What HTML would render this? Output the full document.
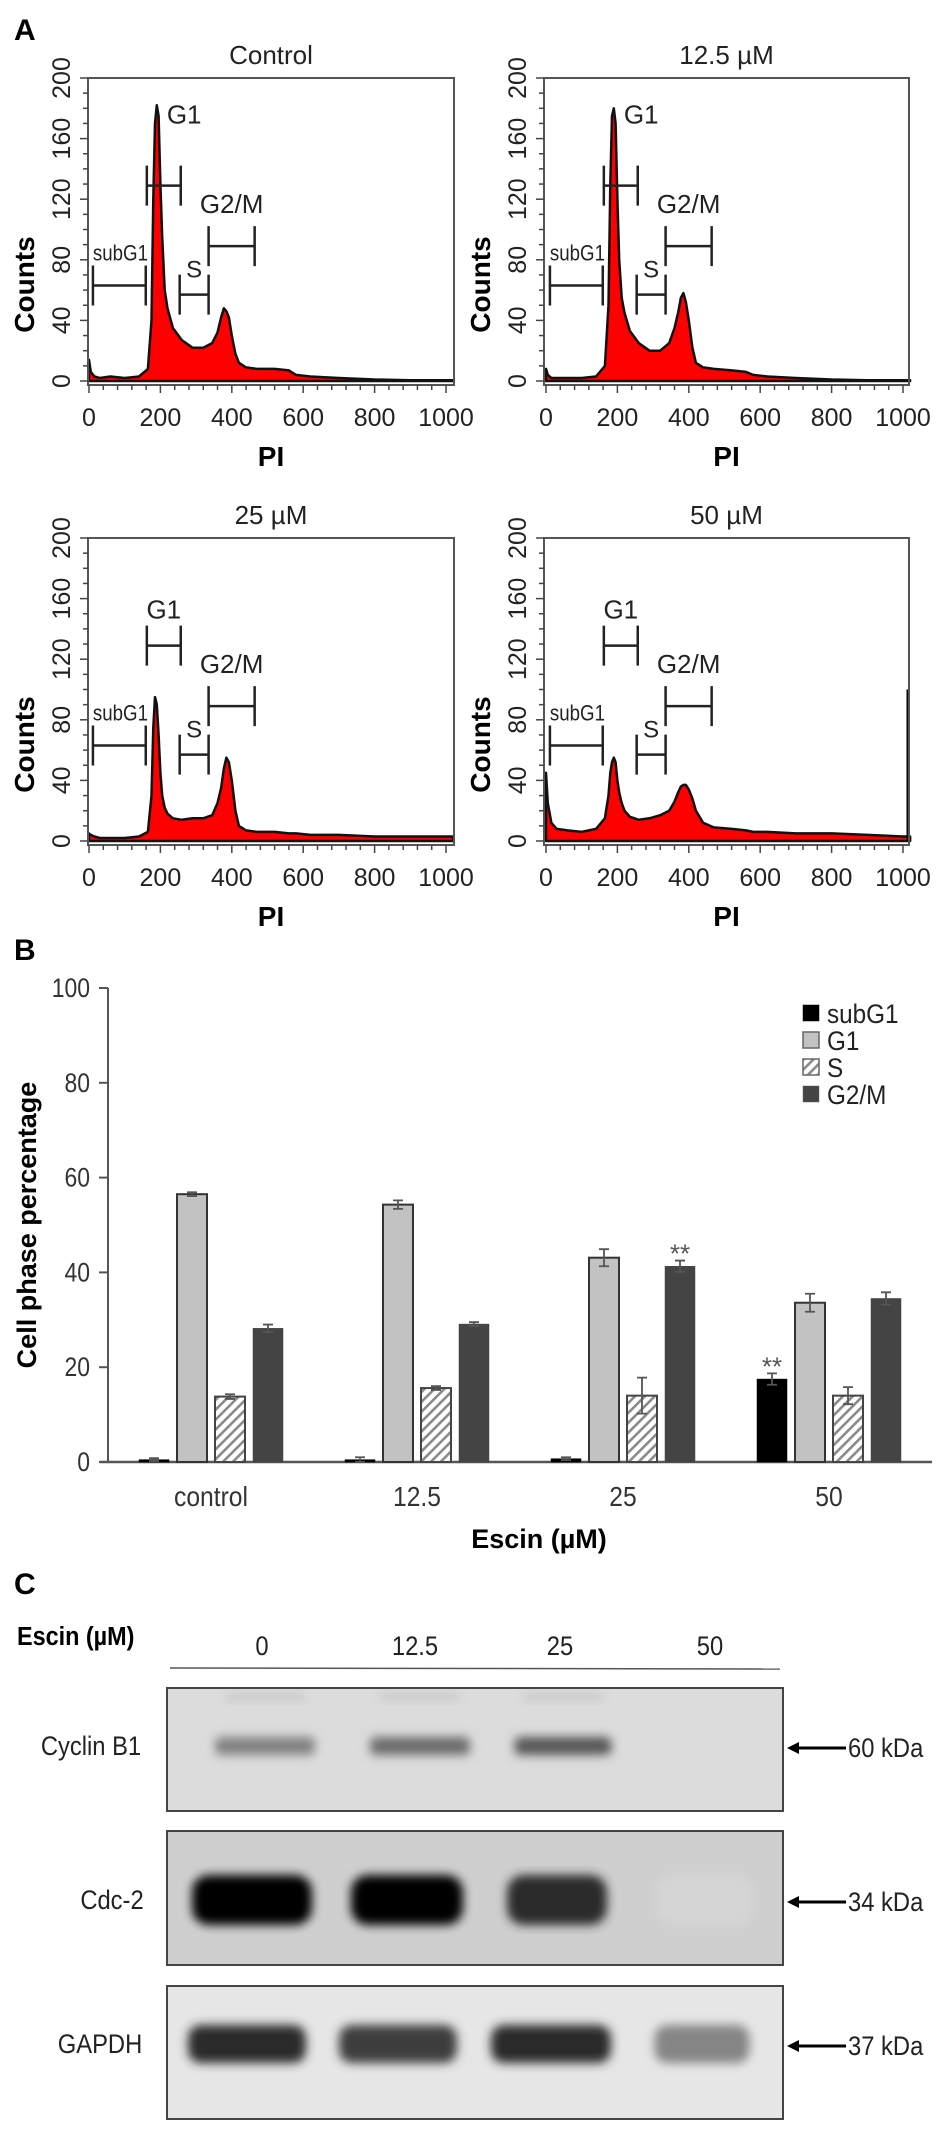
<!DOCTYPE html>
<html><head><meta charset="utf-8"><style>
html,body{margin:0;padding:0;background:#fff;}
svg{display:block;font-family:"Liberation Sans",Arial,sans-serif;}
</style></head><body>
<svg id="fig" width="945" height="2130" viewBox="0 0 945 2130" xmlns="http://www.w3.org/2000/svg">
<defs>
<pattern id="hatch" width="7" height="7" patternUnits="userSpaceOnUse" patternTransform="rotate(45)">
<rect width="7" height="7" fill="#fff"/><rect width="2.6" height="7" fill="#8a8a8a"/>
</pattern>
<filter id="blur4" x="-30%" y="-80%" width="160%" height="260%"><feGaussianBlur stdDeviation="5"/></filter>
</defs>
<text x="14" y="40" font-size="30" font-weight="bold">A</text>
<text x="14" y="960" font-size="30" font-weight="bold">B</text>
<text x="14" y="1594" font-size="30" font-weight="bold">C</text>
<g id="hists"></g>
<g id="bars"></g>
<g id="blot"></g>
</svg>
<script>
// ---------- Panel A data ----------
const histTitles = ["Control", "12.5 µM", "25 µM", "50 µM"];
const piValues = [0,5,15,30,60,100,140,165,175,180,185,190,195,200,205,212,220,235,260,290,320,345,360,370,378,385,392,400,410,420,440,470,520,560,580,620,700,800,900,1000,1020];
const countsControl = [14,6,3,2,3,2,3,8,40,120,170,182,175,130,95,60,48,35,27,22,22,25,32,42,48,46,42,30,18,12,9,8,8,7,4,3,2,1,0.5,0.5,0.5];
const counts12 = [8,4,2,2,2,2,3,10,50,130,175,180,170,120,80,55,45,33,25,20,20,25,35,45,55,58,52,40,22,12,9,8,7,6,4,3,2,1,0.5,0.5,0.5];
const counts25 = [5,4,3,2,2,2,3,6,30,75,95,90,70,45,30,22,18,15,14,15,15,17,25,35,48,55,52,40,20,10,7,6,6,5,5,4,4,3,3,3,3];
const counts50 = [45,25,12,8,7,6,8,15,30,45,52,55,52,40,32,25,20,16,14,15,17,20,26,32,36,37,37,34,28,20,12,9,8,7,6,6,5,5,4,3,3];
const edgeSpike50 = 100;
const yTickLabels = [0,40,80,120,160,200];
const xTickLabels = [0,200,400,600,800,1000];
const gateNames = ["subG1","G1","S","G2/M"];
const gateStart = [11,162,254,335];
const gateEnd = [159,257,335,464];
const gateLevel = [63,129,57,89];

// ---------- Panel B data ----------
const groups = ["control","12.5","25","50"];
const phases = ["subG1","G1","S","G2/M"];
const subG1Vals = [0.5,0.5,0.7,17.5];
const g1Vals = [56.5,54.3,43.1,33.6];
const sVals = [13.8,15.6,14.0,14.0];
const g2mVals = [28.2,29.1,41.3,34.5];
const subG1Err = [0.3,0.5,0.3,1.2];
const g1Err = [0.4,0.9,1.8,1.9];
const sErr = [0.5,0.4,3.8,1.8];
const g2mErr = [0.8,0.4,1.2,1.3];
const barTicks = [0,20,40,60,80,100];
const sigMarks = [["50",0],["25",3]];

// ---------- Panel C data ----------
const lanes = ["0","12.5","25","50"];
const proteins = ["Cyclin B1","Cdc-2","GAPDH"];
const markers = ["60 kDa","34 kDa","37 kDa"];
const cyclinIntensity = [0.4,0.5,0.6,0.0];
const cdc2Intensity = [1.0,1.0,0.8,0.01];
const gapdhIntensity = [0.8,0.72,0.8,0.38];

const NS="http://www.w3.org/2000/svg";
function mk(tag,attrs,parent,txt){const e=document.createElementNS(NS,tag);for(const k in attrs)e.setAttribute(k,attrs[k]);if(txt!==undefined)e.textContent=txt;parent.appendChild(e);return e;}

// ---------- draw histograms ----------
const hg=document.getElementById('hists');
const panels=[
 {ox:88,right:454,zero:89,top:78,base:381,counts:countsControl,g1top:true},
 {ox:544,right:909,zero:546,top:78,base:381,counts:counts12,g1top:true},
 {ox:88,right:454,zero:89,top:538,base:841,counts:counts25,g1top:false},
 {ox:544,right:909,zero:546,top:538,base:841,counts:counts50,g1top:false,spike:true}];
panels.forEach((p,pi)=>{
 const g=mk('g',{},hg);
 
 
 const sx=v=>p.zero+v*0.357;
 const sy=c=>p.base-c*(p.base-p.top)/200;
 const t=mk('text',{x:(p.ox+p.right)/2,y:p.top-14,'font-size':26,'text-anchor':'middle',fill:'#222'},g,histTitles[pi]);
 
 
 let d='M'+sx(piValues[0])+','+sy(0);
 for(let i=0;i<piValues.length;i++){d+=' L'+sx(piValues[i]).toFixed(1)+','+sy(p.counts[i]).toFixed(1);}
 d+=' L'+sx(piValues[piValues.length-1])+','+sy(0)+' Z';
 const area=mk('path',{d:d,fill:'#ff0000',stroke:'#111','stroke-width':2.5,'stroke-linejoin':'round'},g);
 
 
 if(p.spike){const sp=mk('line',{x1:p.right-1,x2:p.right-1,y1:sy(0),y2:sy(edgeSpike50),stroke:'#000','stroke-width':3},g);
  
  }
 const fr=mk('rect',{x:p.ox,y:p.top,width:p.right-p.ox,height:p.base-p.top+4,fill:'none',stroke:'#555','stroke-width':2},g);
 
 
 for(let v=0;v<=200;v+=10){mk('line',{x1:p.ox-(v%40?5:8),x2:p.ox,y1:sy(v),y2:sy(v),stroke:'#444','stroke-width':1.5},g);}
 yTickLabels.forEach(v=>{const tx=p.ox-18,ty=sy(v);const l=mk('text',{x:tx,y:ty,'font-size':25,'text-anchor':'middle',transform:`rotate(-90 ${tx} ${ty})`,fill:'#222'},g,String(v));
  
  });
 for(let v=0;v<=1000;v+=40){mk('line',{x1:sx(v),x2:sx(v),y1:p.base+4,y2:p.base+(v%200?9:12),stroke:'#444','stroke-width':1.5},g);}
 xTickLabels.forEach(v=>{const l=mk('text',{x:sx(v),y:p.base+45,'font-size':25,'text-anchor':'middle',fill:'#222'},g,String(v));
  
  });
 const xl=mk('text',{x:(p.ox+p.right)/2,y:p.base+85,'font-size':28,'font-weight':'bold','text-anchor':'middle'},g,'PI');
 
 
 const cx=p.ox-54,cy=(p.top+p.base)/2+55;
 const yl=mk('text',{x:cx,y:cy,'font-size':28,'font-weight':'bold','text-anchor':'middle',transform:`rotate(-90 ${cx} ${cy})`},g,'Counts');
 
 
 gateNames.forEach((gn,gi)=>{
  const x1=sx(gateStart[gi]),x2=sx(gateEnd[gi]),y=sy(gateLevel[gi]);
  const b=mk('path',{d:`M${x1},${y-20}V${y+20}M${x1},${y}H${x2}M${x2},${y-20}V${y+20}`,stroke:'#222','stroke-width':2.5,fill:'none'},g);
  
  
  let lx,ly,fs=26,anchor='middle',tr='';
  if(gn==='subG1'){lx=x1;ly=y-25;anchor='start';fs=22;tr=`translate(${x1*0.15},0) scale(0.85,1)`;}
  else if(gn==='G1'){ if(p.g1top){lx=x1+20;ly=sy(170);anchor='start';} else {lx=(x1+x2)/2;ly=y-27;} }
  else if(gn==='S'){lx=(x1+x2)/2;ly=y-17;fs=24;}
  else {lx=(x1+x2)/2;ly=y-33;}
  const at={x:lx,y:ly,'font-size':fs,'text-anchor':anchor,fill:'#222'};
  if(tr) at.transform=tr;
  const tl=mk('text',at,g,gn);
  
  
 });
});

// ---------- bar chart ----------
const bg=document.getElementById('bars');
const by0=1462, bpu=4.74, axX=108;
const yS=v=>by0-v*bpu;
const groupX=gi=>139+gi*206;
const series=[subG1Vals,g1Vals,sVals,g2mVals];
const errs=[subG1Err,g1Err,sErr,g2mErr];
const fills=['#000','#c2c2c2','url(#hatch)','#444'];
const strokes=['#000','#333','#444','#444'];
mk('line',{x1:axX,x2:axX,y1:yS(100),y2:by0,stroke:'#555','stroke-width':2},bg);
mk('line',{x1:axX-8,x2:932,y1:by0,y2:by0,stroke:'#555','stroke-width':2.5},bg);
barTicks.forEach(v=>{mk('line',{x1:axX-9,x2:axX,y1:yS(v),y2:yS(v),stroke:'#555','stroke-width':2},bg);
 const l=mk('text',{x:axX-18,y:yS(v)+9,'font-size':27,'text-anchor':'end',fill:'#333',transform:`translate(${(axX-18)*0.15},0) scale(0.85,1)`},bg,String(v));
 
 });
const ylx=36,yly=1225;
const ylab=mk('text',{x:ylx,y:yly,'font-size':27,'font-weight':'bold','text-anchor':'middle',transform:`rotate(-90 ${ylx} ${yly})`},bg,'Cell phase percentage');


groups.forEach((gname,gi)=>{
 series.forEach((vals,si)=>{
  const x=groupX(gi)+si*38, v=vals[gi];
  const r=mk('rect',{x:x,y:yS(v),width:30,height:by0-yS(v),fill:fills[si],stroke:strokes[si],'stroke-width':si===0||si===3?0.5:2},bg);
  
  
  const e=errs[si][gi], cx=x+15;
  const eb=mk('path',{d:`M${cx},${yS(v+e)}V${yS(v-e)}M${cx-5},${yS(v+e)}H${cx+5}M${cx-5},${yS(v-e)}H${cx+5}`,stroke:'#555','stroke-width':1.8,fill:'none'},bg);
  
  
 });
 const gx=groupX(gi)+72;
 const gl=mk('text',{x:gx,y:1506,'font-size':28,'text-anchor':'middle',fill:'#333',transform:`translate(${gx*0.12},0) scale(0.88,1)`},bg,gname);
 
 
});
sigMarks.forEach(([gname,si])=>{const gi=groups.indexOf(gname);const v=series[si][gi]+errs[si][gi];
 const s=mk('text',{x:groupX(gi)+si*38+15,y:yS(v)+2,'font-size':26,'text-anchor':'middle',fill:'#555'},bg,'**');
 
 });
const xt=mk('text',{x:539,y:1548,'font-size':27,'font-weight':'bold','text-anchor':'middle'},bg,'Escin (µM)');


phases.forEach((ph,i)=>{const y=1013+i*27;
 const sw=mk('rect',{x:803,y:y-8,width:16,height:16,fill:fills[i],stroke:i===0?'#000':'#666','stroke-width':i===1||i===2?1.5:0.5},bg);
 
 
 const lt=mk('text',{x:827,y:y+10,'font-size':27,fill:'#222',transform:`translate(${827*0.1},0) scale(0.9,1)`},bg,ph);
 
 });

// ---------- blot ----------
const wg=document.getElementById('blot');
const hdr=mk('text',{x:17,y:1645,'font-size':26,'font-weight':'bold',transform:'translate(1.7,0) scale(0.9,1)'},wg,'Escin (µM)');


const laneX=[262,415,560,710];
lanes.forEach((ln,i)=>{const t=mk('text',{x:laneX[i],y:1655,'font-size':27,'text-anchor':'middle',fill:'#222',transform:`translate(${laneX[i]*0.12},0) scale(0.88,1)`},wg,ln);
 
 });
mk('line',{x1:170,x2:780,y1:1668,y2:1669,stroke:'#555','stroke-width':1.5},wg);
const blots=[{y:1688,h:123,bg:'#dcdcdc',band:1746,bh:18,vals:cyclinIntensity,w:[100,100,97,90],cx:[265,420,563,705]},
 {y:1831,h:134,bg:'#cfcfcf',band:1900,bh:50,vals:cdc2Intensity,w:[120,112,100,95],cx:[252,407,557,705]},
 {y:1986,h:133,bg:'#e6e6e6',band:2044,bh:38,vals:gapdhIntensity,w:[118,118,120,95],cx:[247,398,551,702]}];
blots.forEach((b,bi)=>{
 const g=mk('g',{},wg);
 
 
 mk('rect',{x:167,y:b.y,width:616,height:b.h,fill:b.bg},g);
 if(bi===0){lanes.slice(0,3).forEach((l,i)=>{mk('rect',{x:b.cx[i]-40,y:1694,width:80,height:6,fill:'#aaa',opacity:0.5,filter:'url(#blur4)'},g);});}
 b.vals.forEach((v,i)=>{ if(v<=0) return;
  const c=Math.round(215-v*215);
  const band=mk('rect',{x:b.cx[i]-b.w[i]/2,y:b.band-b.bh/2,width:b.w[i],height:b.bh,rx:b.bh/3,fill:`rgb(${c},${c},${c})`,filter:'url(#blur4)'},g);
  
  });
 mk('rect',{x:167,y:b.y,width:616,height:b.h,fill:'none',stroke:'#444','stroke-width':2},g);
 const px=[91,112,100][bi];
 const pl=mk('text',{x:px,y:b.band+9,'font-size':27,'text-anchor':'middle',fill:'#222',transform:`translate(${px*0.12},0) scale(0.88,1)`},g,proteins[bi]);
 
 
 const ay=b.band+2;
 mk('path',{d:`M846,${ay}H796`,stroke:'#000','stroke-width':3},g);
 mk('path',{d:`M787,${ay}L799,${ay-6}L799,${ay+6}Z`,fill:'#000'},g);
 const ml=mk('text',{x:848,y:ay+9,'font-size':27,fill:'#222',transform:'translate(101.8,0) scale(0.88,1)'},g,markers[bi]);
 
 
});
</script>
</body></html>
